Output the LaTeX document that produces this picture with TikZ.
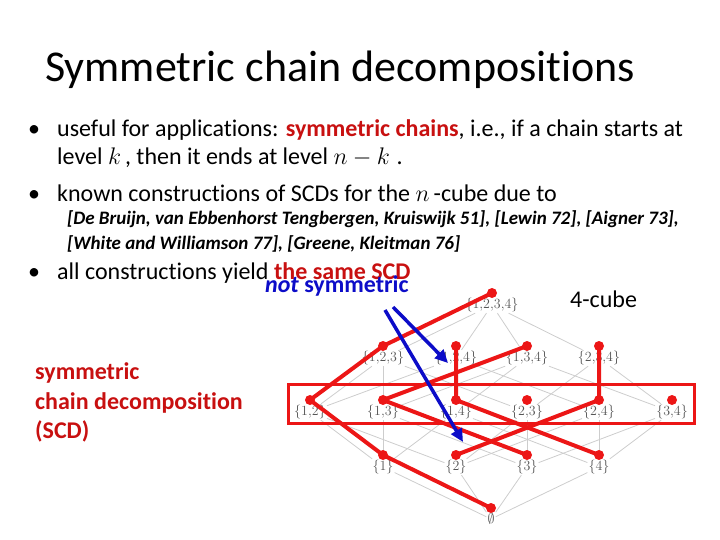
\RequirePackage{fix-cm}
\documentclass[tikz,border=0pt]{standalone}
\usepackage{fontspec}
\setmainfont{Carlito}[Ligatures=NoCommon]
\usetikzlibrary{arrows.meta}
\definecolor{scd}{RGB}{236,22,22}
\definecolor{dred}{RGB}{200,16,16}
\definecolor{nblue}{RGB}{12,12,200}
\definecolor{lab}{RGB}{85,85,85}
\definecolor{hasse}{RGB}{205,205,205}
\tikzset{
  txt/.style={anchor=base west, inner sep=0pt, font=\fontsize{24}{28}\selectfont},
  reftxt/.style={anchor=base west, inner sep=0pt, font=\fontsize{19}{22}\selectfont\bfseries\itshape},
  lbl/.style={inner sep=1pt, text=lab, font=\fontsize{14}{16}\selectfont},
  dotnode/.style={circle, fill=scd, inner sep=0pt, minimum size=10pt},
  hasseedge/.style={draw=hasse, line width=0.8pt},
  chain/.style={draw=scd, line width=4pt, line cap=round, line join=round},
  blarrow/.style={draw=nblue, line width=3.5pt, -{Triangle[length=13pt,width=12pt]}}
}
\begin{document}
\begin{tikzpicture}[x=1pt,y=-1pt]
\useasboundingbox (0,0) rectangle (720,540);

% title and text
\node[anchor=base west, inner sep=0pt, font=\fontsize{44}{52}\selectfont] (title) at (45,82) {Symmetric chain decompositions};
\node[txt] (b1) at (28,137) {•};
\node[txt] (t1) at (57,137) {useful for applications: \textcolor{dred}{\bfseries symmetric chains}, i.e., if a chain starts at};
\node[txt] (t1b) at (57,165) {level $k$\,, then it ends at level $n-k$\;.};
\node[txt] (b2) at (28,202) {•};
\node[txt] (t2) at (57,202) {known constructions of SCDs for the $n$\,-cube due to};
\node[reftxt] (r1) at (67,225) {[De Bruijn, van Ebbenhorst Tengbergen, Kruiswijk 51], [Lewin 72], [Aigner 73],};
\node[reftxt] (r2) at (67,249) {[White and Williamson 77], [Greene, Kleitman 76]};
\node[txt] (b3) at (28,279) {•};
\node[txt] (t3) at (57,279) {all constructions yield \textcolor{dred}{\bfseries the same SCD}};
\node[txt, text=nblue, font=\fontsize{24}{28}\selectfont\bfseries] (ns) at (265,292) {\itshape not\upshape\ symmetric};
\node[txt] (cube) at (570,307) {4-cube};
\node[txt, text=dred, font=\fontsize{24}{28}\selectfont\bfseries] (s1) at (35,379) {symmetric};
\node[txt, text=dred, font=\fontsize{24}{28}\selectfont\bfseries] (s2) at (35,409) {chain decomposition};
\node[txt, text=dred, font=\fontsize{24}{28}\selectfont\bfseries] (s3) at (35,438) {(SCD)};

% labels and dot positions
\foreach \nm/\x/\y/\t in {
 1234/492/305/{1{,}2{,}3{,}4},
 123/383/358/{1{,}2{,}3}, 124/456/358/{1{,}2{,}4}, 134/527/358/{1{,}3{,}4}, 234/599/358/{2{,}3{,}4},
 12/310/412/{1{,}2}, 13/383/412/{1{,}3}, 14/456/412/{1{,}4}, 23/527/412/{2{,}3}, 24/599/412/{2{,}4}, 34/672/412/{3{,}4},
 1/383/467/{1}, 2/456/467/{2}, 3/527/467/{3}, 4/599/467/{4}}{
  \node[lbl] (l\nm) at (\x,\y) {$\{\t\}$};
  \coordinate (c\nm) at (\x,\y-12);
}
\node[lbl] (l0) at (491,519) {$\emptyset$};
\coordinate (c0) at (491,508);

% Hasse diagram edges
\foreach \a/\b in {1234/123,1234/124,1234/134,1234/234,
  123/12,123/13,123/23, 124/12,124/14,124/24, 134/13,134/14,134/34, 234/23,234/24,234/34,
  12/1,12/2, 13/1,13/3, 14/1,14/4, 23/2,23/3, 24/2,24/4, 34/3,34/4,
  1/0,2/0,3/0,4/0}{
  \draw[hasseedge] (l\a) -- (l\b);
}

% middle level box
\node[draw=scd, line width=3pt, minimum width=406pt, minimum height=39pt, inner sep=0pt] (box) at (491,403.5) {};

% symmetric chains
\draw[chain] (c0) -- (c1) -- (c12) -- (c123) -- (c1234);
\draw[chain] (c2) -- (c24) -- (c234);
\draw[chain] (c3) -- (c13) -- (c134);
\draw[chain] (c4) -- (c14) -- (c124);
\foreach \nm in {0,1,2,3,4,12,13,14,23,24,34,123,124,134,234,1234}{
  \node[dotnode] (d\nm) at (c\nm) {};
}

% blue arrows
\coordinate (a1s) at (393,307);
\coordinate (a1e) at (448,363);
\coordinate (a2s) at (385,310);
\coordinate (a2e) at (463,442);
\draw[blarrow] (a1s) -- (a1e);
\draw[blarrow] (a2s) -- (a2e);
\end{tikzpicture}
\end{document}
